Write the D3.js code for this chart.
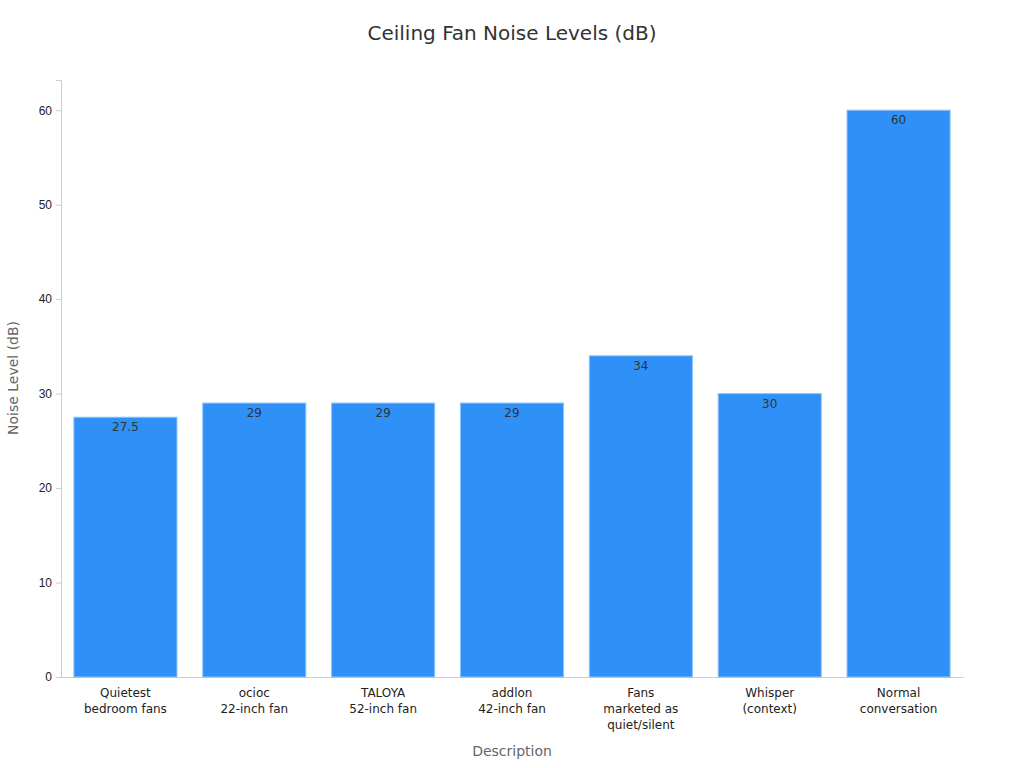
<!DOCTYPE html>
<html><head><meta charset="utf-8">
<script src="https://cdn.jsdelivr.net/npm/d3@7.9.0/dist/d3.min.js"></script>
<style>body{margin:0;background:#fff;font-family:"DejaVu Sans",sans-serif;}</style>
</head><body><svg id="chart" width="1024" height="768"></svg>
<script>
// Chart data
const categories = [
  ['Quietest', 'bedroom fans'],
  ['ocioc', '22-inch fan'],
  ['TALOYA', '52-inch fan'],
  ['addlon', '42-inch fan'],
  ['Fans', 'marketed as', 'quiet/silent'],
  ['Whisper', '(context)'],
  ['Normal', 'conversation']
];
const values = [27.5, 29, 29, 29, 34, 30, 60];
const yTicks = [0, 10, 20, 30, 40, 50, 60];

const svg = d3.select('#chart');
const margin = { left: 61, right: 963, top: 80, bottom: 677 };

const x = d3.scaleBand()
  .domain(d3.range(values.length))
  .range([margin.left, margin.right])
  .paddingInner(0.2)
  .paddingOuter(0.1);

const y = d3.scaleLinear().domain([0, 63.2]).range([margin.bottom, margin.top]);

// Title
svg.append('text').attr('x', 512).attr('y', 40).attr('text-anchor', 'middle')
  .attr('font-size', 20).attr('fill', '#333').text('Ceiling Fan Noise Levels (dB)');

// Y axis
const yAxis = svg.append('g').attr('transform', `translate(${margin.left},0)`)
  .call(d3.axisLeft(y).tickValues(yTicks).tickSize(5).tickPadding(4));
yAxis.selectAll('text').attr('font-size', 12).attr('fill', '#222');
yAxis.selectAll('line, path').attr('stroke', '#ccc');

// X axis
const xAxis = svg.append('g').attr('transform', `translate(0,${margin.bottom})`)
  .call(d3.axisBottom(x).tickSize(0).tickFormat(''));
xAxis.select('path').attr('stroke', '#ccc');

categories.forEach((lines, i) => {
  const t = svg.append('text').attr('text-anchor', 'middle')
    .attr('font-size', 12).attr('fill', '#222');
  lines.forEach((l, j) => {
    t.append('tspan').attr('x', x(i) + x.bandwidth() / 2)
      .attr('y', margin.bottom + 20 + j * 16).text(l);
  });
});

// Bars
svg.selectAll('rect.bar').data(values).join('rect')
  .attr('class', 'bar')
  .attr('x', (d, i) => x(i))
  .attr('y', d => y(d))
  .attr('width', x.bandwidth())
  .attr('height', d => y(0) - y(d))
  .attr('fill', '#2f91f8')
  .attr('stroke', '#8cc2fb')
  .attr('stroke-width', 1);

// Value labels
svg.selectAll('text.val').data(values).join('text')
  .attr('class', 'val')
  .attr('x', (d, i) => x(i) + x.bandwidth() / 2)
  .attr('y', d => y(d) + 14)
  .attr('text-anchor', 'middle')
  .attr('font-size', 12).attr('fill', '#333')
  .text(d => d);

// Axis titles
svg.append('text').attr('x', 512).attr('y', 756).attr('text-anchor', 'middle')
  .attr('font-size', 14).attr('fill', '#666').text('Description');
svg.append('text').attr('transform', 'translate(18,378) rotate(-90)')
  .attr('text-anchor', 'middle').attr('font-size', 14).attr('fill', '#666')
  .text('Noise Level (dB)');
</script></body></html>
